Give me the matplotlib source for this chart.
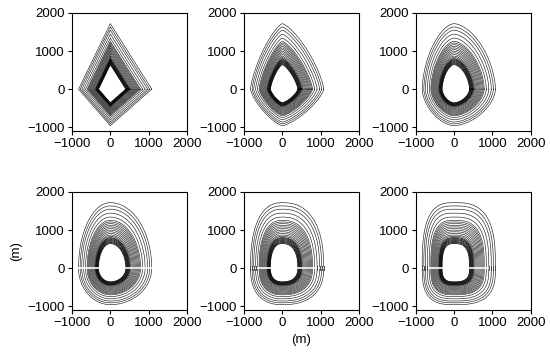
import numpy as np
import matplotlib
matplotlib.use("Agg")
import matplotlib.pyplot as plt

plt.rcParams['font.family'] = ['Liberation Sans', 'DejaVu Sans']
plt.rcParams['font.size'] = 9.5

# outer contour extents (m): right, left, top, bottom
right_ext = 1080
left_ext = -830
top_ext = 1720
bottom_ext = -960

# relative size of every contour line (outer sparse lines, then dense bands)
levels = [1.0, 0.95, 0.90, 0.84, 0.78,
          0.73, 0.705, 0.68, 0.655, 0.63, 0.605, 0.58, 0.555, 0.53,
          0.505, 0.485, 0.465, 0.45, 0.435, 0.42, 0.405, 0.39, 0.375]

# shape exponent of each panel (1 = diamond, 2 = ellipse, larger = squarer)
shape_p = [1.0, 1.35, 1.7, 2.0, 2.4, 2.9]

ticks = [-1000, 0, 1000, 2000]

fig = plt.figure(figsize=(5.5, 3.59), dpi=100)

col_left = [0.1309, 0.4436, 0.7558]
row_bottom = [0.6351, 0.1365]
w, h = 0.2091, 0.3287

t = np.linspace(0, 2 * np.pi, 721)
c, s = np.cos(t), np.sin(t)

axes = []
for k, p in enumerate(shape_p):
    ax = fig.add_axes([col_left[k % 3], row_bottom[k // 3], w, h])
    axes.append(ax)
    ex = 2.0 / p
    for lv in levels:
        ax_x = np.where(c >= 0, right_ext, -left_ext) * lv
        ax_y = np.where(s >= 0, top_ext, -bottom_ext) * lv
        x = np.sign(c) * np.abs(c) ** ex * ax_x
        y = np.sign(s) * np.abs(s) ** ex * ax_y
        # inner ring round the hole is drawn darker
        if lv < 0.47:
            ax.plot(x, y, color='black', lw=0.55)
        else:
            ax.plot(x, y, color='#222222', lw=0.45)
    if k >= 3:
        # white break along y = 0 seen in the lower panels
        ax.plot([-880, 1120], [0, 0], color='white', lw=1.2, zorder=3)
    if k >= 4:
        for lv in levels[:4]:
            for xe in (right_ext * lv, left_ext * lv):
                ax.plot([xe, xe], [-55, 55], color='#333333', lw=0.6, zorder=4)
    ax.set_xlim(-1000, 2000)
    ax.set_ylim(-1100, 2000)
    ax.set_xticks(ticks)
    ax.set_yticks(ticks)
    ax.tick_params(length=3, width=0.8, pad=2)

axes[3].set_ylabel('(m)')
axes[4].set_xlabel('(m)')

fig.savefig('out.png', dpi=100)
